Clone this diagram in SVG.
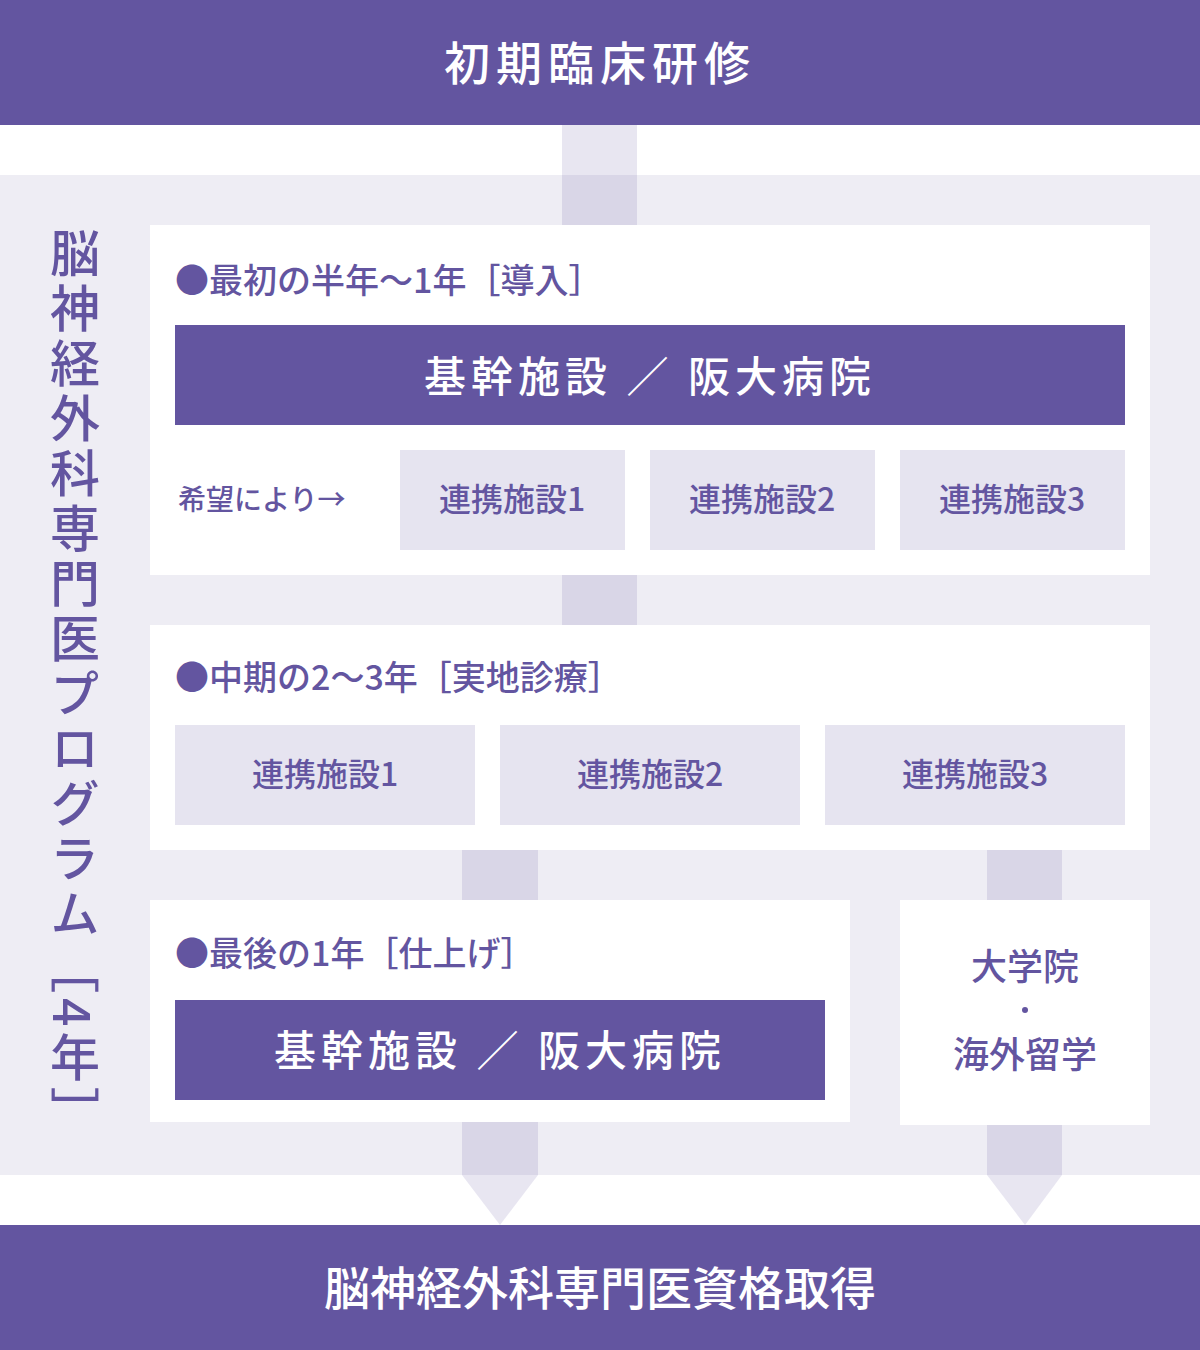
<svg xmlns="http://www.w3.org/2000/svg" width="1200" height="1350" viewBox="0 0 1200 1350">
<style>
text{font-family:"Noto Sans CJK JP","Liberation Serif",sans-serif;}
.dark{fill:#6355a0}
.lite{fill:#e6e4f0}
.wh{fill:#fff}
.wt{fill:#fff;text-anchor:middle;font-weight:500}
.pt{fill:#6355a0;font-weight:500}
.c{text-anchor:middle}
.conn{fill:#6355a0;fill-opacity:0.15}
</style>
<rect x="0" y="0" width="1200" height="1350" fill="#fff"/>
<rect x="0" y="175" width="1200" height="1000" fill="#eeedf4"/>
<g id="top"><rect class="dark" x="0" y="0" width="1200" height="125"/><text class="wt" x="600" y="80" font-size="46" letter-spacing="6">初期臨床研修</text></g>
<g id="bottom"><rect class="dark" x="0" y="1225" width="1200" height="125"/><text class="wt" x="600" y="1305" font-size="46">脳神経外科専門医資格取得</text></g>
<g id="connectors">
<rect class="conn" x="562" y="125" width="75" height="100"/>
<rect class="conn" x="562" y="575" width="75" height="50"/>
<rect class="conn" x="462" y="850" width="76" height="50"/>
<rect class="conn" x="987" y="850" width="75" height="50"/>
<path class="conn" d="M462 1122H538V1175L500 1225L462 1175Z"/>
<path class="conn" d="M987 1125H1062V1175L1025 1225L987 1175Z"/>
</g>
<g id="side"><text class="pt" x="75" y="228" font-size="50" writing-mode="vertical-rl" letter-spacing="5">脳神経外科専門医プログラム［4年］</text></g>
<g id="phase1">
<rect class="wh" x="150" y="225" width="1000" height="350"/>
<text class="pt" x="175" y="293" font-size="34">●最初の半年〜1年［導入］</text>
<rect class="dark" x="175" y="325" width="950" height="100"/>
<text class="wt" x="650" y="392" font-size="42" letter-spacing="5">基幹施設 ／ 阪大病院</text>
<text class="pt" x="178" y="510" font-size="28">希望により→</text>
<rect class="lite" x="400" y="450" width="225" height="100"/><text class="pt c" x="512" y="511" font-size="32">連携施設1</text>
<rect class="lite" x="650" y="450" width="225" height="100"/><text class="pt c" x="762" y="511" font-size="32">連携施設2</text>
<rect class="lite" x="900" y="450" width="225" height="100"/><text class="pt c" x="1012" y="511" font-size="32">連携施設3</text>
</g>
<g id="phase2">
<rect class="wh" x="150" y="625" width="1000" height="225"/>
<text class="pt" x="175" y="690" font-size="34">●中期の2〜3年［実地診療］</text>
<rect class="lite" x="175" y="725" width="300" height="100"/><text class="pt c" x="325" y="786" font-size="32">連携施設1</text>
<rect class="lite" x="500" y="725" width="300" height="100"/><text class="pt c" x="650" y="786" font-size="32">連携施設2</text>
<rect class="lite" x="825" y="725" width="300" height="100"/><text class="pt c" x="975" y="786" font-size="32">連携施設3</text>
</g>
<g id="phase3">
<rect class="wh" x="150" y="900" width="700" height="222"/>
<text class="pt" x="175" y="966" font-size="34">●最後の1年［仕上げ］</text>
<rect class="dark" x="175" y="1000" width="650" height="100"/>
<text class="wt" x="500" y="1066" font-size="42" letter-spacing="5">基幹施設 ／ 阪大病院</text>
</g>
<g id="grad">
<rect class="wh" x="900" y="900" width="250" height="225"/>
<text class="pt c" x="1025" y="980" font-size="36">大学院</text>
<circle class="dark" cx="1025" cy="1010" r="3"/>
<text class="pt c" x="1025" y="1068" font-size="36">海外留学</text>
</g>
</svg>
